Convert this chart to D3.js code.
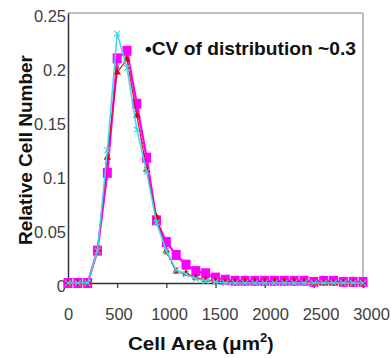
<!DOCTYPE html>
<html>
<head>
<meta charset="utf-8">
<script src="https://cdn.jsdelivr.net/npm/d3@7"></script>
<style>
  body { margin: 0; background: #fff; }
  svg { display: block; font-family: "Liberation Sans", Arial, sans-serif; }
</style>
</head>
<body>
<script>
// bins of cell area (um^2)
var area = [0,100,200,300,400,500,600,700,800,900,1000,1100,1200,1300,1400,1500,
  1600,1700,1800,1900,2000,2100,2200,2300,2400,2500,2600,2700,2800,2900,3000];

var magenta = [0,0,0,0.03,0.102,0.208,0.215,0.166,0.116,0.058,0.038,0.026,0.017,0.011,0.009,0.005,
  0.003,0.002,0.002,0.002,0.002,0.002,0.002,0.002,0.002,0.001,0.002,0.002,0.001,0.001,0.001];
var red = [0,0,0,0.03,0.116,0.195,0.207,0.155,0.105,0.061,0.03,0.011,0.009,0.005,0.003,0.002,
  0.001,0.001,0.001,0.001,0.001,0.001,0.001,0.001,0.001,0,0,0,0,0,0];
var gray = [0,0,0,0.028,0.112,0.2,0.21,0.16,0.108,0.058,0.028,0.01,0.008,0.004,0.002,0.001,
  0.001,0.001,0,0,0,0,0,0,0,0,0,0,0,0,0];
var cyan = [0,0,0,0.03,0.123,0.231,0.199,0.142,0.103,0.056,0.03,0.012,0.008,0.004,0.002,0.001,
  0,0,0,0,0,0,0,0,0,0,0,0,0,0,0];

var xTicks = [0,500,1000,1500,2000,2500,3000];
var yTicks = [0,0.05,0.1,0.15,0.2,0.25];

var W = 391, H = 358;
var svg = d3.select("body").append("svg").attr("width", W).attr("height", H);

var x = d3.scaleLinear().domain([0,3000]).range([68,363]);
var y = d3.scaleLinear().domain([0,0.25]).range([283,13]);
// tick labels sit slightly spread out compared with the plot
var xLab = d3.scaleLinear().domain([0,3000]).range([68,371]);

// frame (top and right)
svg.append("path")
  .attr("d", "M" + x(0) + "," + y(0.25) + "H" + x(3000) + "V" + y(0))
  .attr("fill", "none").attr("stroke", "#7f7f7f").attr("stroke-width", 1);

// x axis
var gx = svg.append("g").attr("transform", "translate(0," + y(0) + ")")
  .call(d3.axisBottom(x).tickValues(xTicks).tickSize(5).tickFormat(""));
gx.select(".domain").attr("stroke", "#333").attr("stroke-width", 1.5);
gx.selectAll(".tick line").attr("stroke", "#333").attr("stroke-width", 1.2);

var gxl = svg.append("g").attr("transform", "translate(0," + y(0) + ")")
  .call(d3.axisBottom(xLab).tickValues(xTicks).tickSize(0).tickPadding(25).tickFormat(d3.format("d")));
gxl.select(".domain").remove();
gxl.selectAll("text").attr("font-size", 16.5).attr("fill", "#404040");

// y axis
var gy = svg.append("g").attr("transform", "translate(" + x(0) + ",0)")
  .call(d3.axisLeft(y).tickValues(yTicks).tickSize(0).tickPadding(2).tickFormat(function(d) { return String(+d.toFixed(2)); }));
gy.select(".domain").attr("stroke", "#333").attr("stroke-width", 1.5);
gy.selectAll("text").attr("font-size", 16.5).attr("fill", "#404040").attr("dy", "0.5em");

function series(vals) {
  return area.map(function(a, i) { return [a, vals[i]]; });
}
var line = d3.line().x(function(d) { return x(d[0]); }).y(function(d) { return y(d[1]); });

// gray dashed
svg.append("path").datum(series(gray)).attr("d", line)
  .attr("fill", "none").attr("stroke", "#666").attr("stroke-width", 1).attr("stroke-dasharray", "2,2");
svg.append("g").selectAll("path").data(series(gray)).join("path")
  .attr("transform", function(d) { return "translate(" + x(d[0]) + "," + y(d[1]) + ")"; })
  .attr("d", d3.symbol(d3.symbolTriangle, 14))
  .attr("fill", "#777");

// magenta squares
svg.append("path").datum(series(magenta)).attr("d", line)
  .attr("fill", "none").attr("stroke", "#ff00ff").attr("stroke-width", 2.2);
svg.append("g").selectAll("rect").data(series(magenta)).join("rect")
  .attr("x", function(d) { return x(d[0]) - 4.5; })
  .attr("y", function(d) { return y(d[1]) - 5; })
  .attr("width", 9).attr("height", 10)
  .attr("fill", "#ff00ff");

// red triangles
svg.append("path").datum(series(red)).attr("d", line)
  .attr("fill", "none").attr("stroke", "#e0102a").attr("stroke-width", 1.2);
svg.append("g").selectAll("path").data(series(red)).join("path")
  .attr("transform", function(d) { return "translate(" + x(d[0]) + "," + y(d[1]) + ")"; })
  .attr("d", d3.symbol(d3.symbolTriangle, 24))
  .attr("fill", "#e00000");

// cyan crosses
svg.append("path").datum(series(cyan)).attr("d", line)
  .attr("fill", "none").attr("stroke", "#40d8e6").attr("stroke-width", 1.5);
svg.append("g").selectAll("path").data(series(cyan)).join("path")
  .attr("transform", function(d) { return "translate(" + x(d[0]) + "," + y(d[1]) + ")"; })
  .attr("d", d3.symbol(d3.symbolX, 24))
  .attr("fill", "none").attr("stroke", "#40d8e6").attr("stroke-width", 1.2);

// annotation
svg.append("text").attr("x", 145).attr("y", 55)
  .attr("font-size", 17.5).attr("font-weight", "bold").attr("fill", "#111")
  .attr("textLength", 211).attr("lengthAdjust", "spacingAndGlyphs")
  .text("\u2022CV of distribution ~0.3");

// axis titles
var xt = svg.append("text").attr("x", 128).attr("y", 350)
  .attr("font-size", 19).attr("font-weight", "bold").attr("fill", "#111");
xt.append("tspan").attr("textLength", 132).attr("lengthAdjust", "spacingAndGlyphs").text("Cell Area (\u03bcm");
xt.append("tspan").attr("font-size", 13).attr("dy", -8).text("2");
xt.append("tspan").attr("dy", 8).text(")");

svg.append("text")
  .attr("transform", "translate(32,150) rotate(-90)")
  .attr("text-anchor", "middle").attr("font-size", 17.8).attr("font-weight", "bold").attr("fill", "#111")
  .attr("textLength", 190).attr("lengthAdjust", "spacingAndGlyphs")
  .text("Relative Cell Number");
</script>
</body>
</html>
